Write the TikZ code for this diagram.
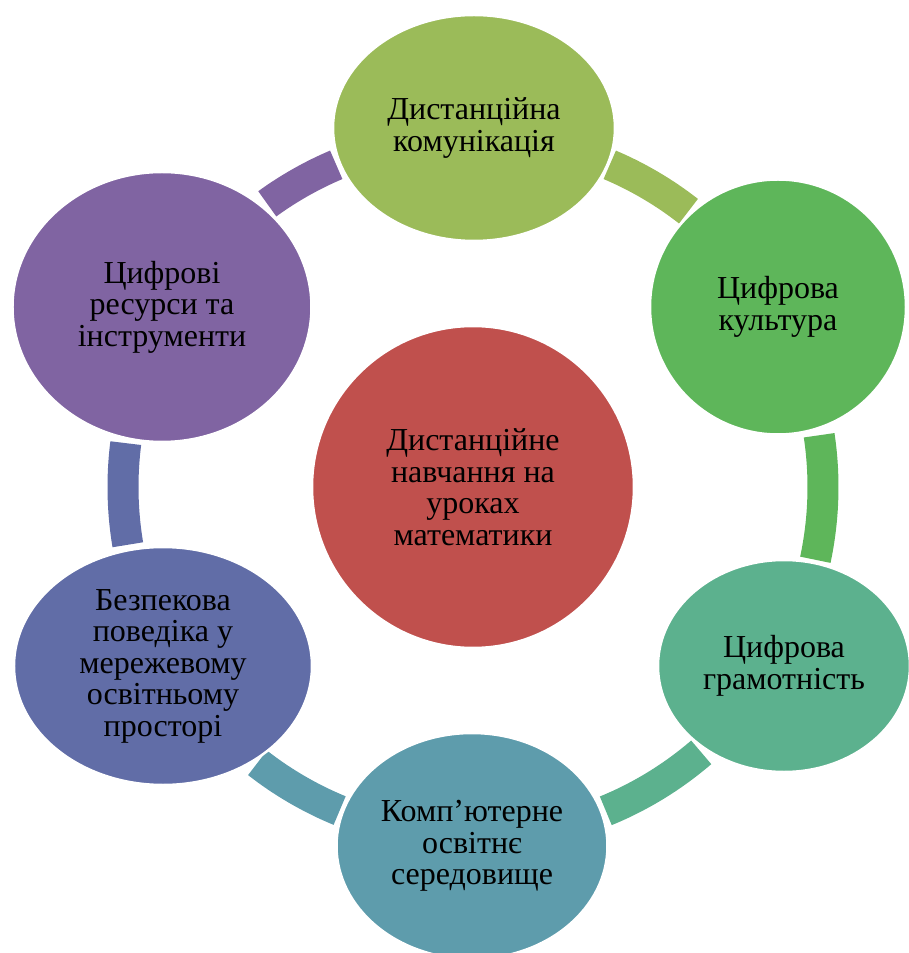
\documentclass[tikz,border=0pt]{standalone}
\usepackage{fontspec}
\setmainfont{Liberation Serif}
\usetikzlibrary{shapes.geometric}

\definecolor{hubcol}{HTML}{C0504D}
\definecolor{commcol}{HTML}{9BBB59}
\definecolor{culturecol}{HTML}{5EB65A}
\definecolor{literacycol}{HTML}{5CB18E}
\definecolor{envcol}{HTML}{5E9CAC}
\definecolor{safetycol}{HTML}{616DA7}
\definecolor{resourcecol}{HTML}{8064A2}

\tikzset{
  blob/.style={ellipse, fill=#1, draw=white, line width=2.5pt, inner sep=0pt,
               align=center, font=\fontsize{32}{31.5}\selectfont},
  band/.style={draw=#1, line width=31pt}
}

\begin{document}
\begin{tikzpicture}[x=1pt, y=1pt]
      \useasboundingbox (-473, -466) rectangle (435, 487);

      % ring pieces between the outer shapes (radius 350)
      \draw[band=commcol]     (52:350)   arc[start angle=52,   end angle=67,    radius=350];
      \draw[band=culturecol]  (-12:350)  arc[start angle=-12,  end angle=8.5,   radius=350];
      \draw[band=literacycol] (-67.7:350) arc[start angle=-67.7, end angle=-49.3, radius=350];
      \draw[band=envcol]      (-128:350) arc[start angle=-128, end angle=-112.4, radius=350];
      \draw[band=safetycol]   (172.8:350) arc[start angle=172.8, end angle=189.5, radius=350];
      \draw[band=resourcecol] (113:350)  arc[start angle=113,  end angle=126,   radius=350];

      \node (hub) [blob=hubcol, circle, minimum size=322] at (0, 0)
            {Дистанційне\\навчання на\\уроках\\математики};
      \node (comm) [blob=commcol, minimum width=282, minimum height=226] at (1, 359)
            {Дистанційна\\комунікація};
      \node (culture) [blob=culturecol, minimum width=256, minimum height=255] at (305, 180)
            {Цифрова\\культура};
      \node (literacy) [blob=literacycol, minimum width=252, minimum height=212] at (311, -179)
            {Цифрова\\грамотність};
      \node (env) [blob=envcol, minimum width=271, minimum height=226] at (-1, -359)
            {Комп’ютерне\\освітнє\\середовище};
      \node (safety) [blob=safetycol, minimum width=298, minimum height=238] at (-310, -179)
            {Безпекова\\поведіка у\\мережевому\\освітньому\\просторі};
      \node (resource) [blob=resourcecol, minimum width=299, minimum height=270] at (-311, 180)
            {Цифрові\\ресурси та\\інструменти};
\end{tikzpicture}
\end{document}
